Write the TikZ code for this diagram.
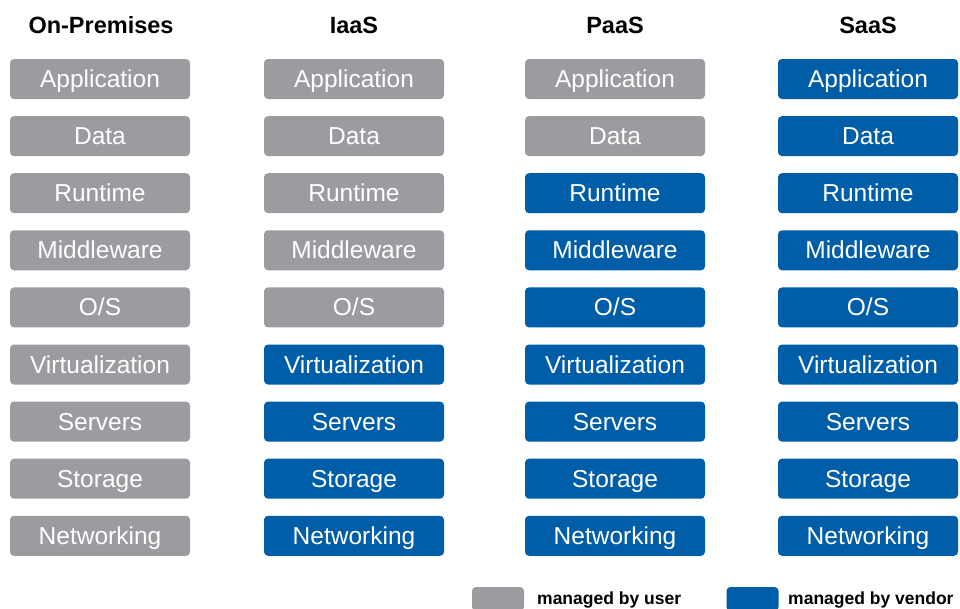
\documentclass[tikz,border=0pt]{standalone}
\usepackage{fontspec}
\setmainfont{Liberation Sans}
\definecolor{usergray}{RGB}{155,156,160}
\definecolor{vendorblue}{RGB}{0,94,168}
\begin{document}
\begin{tikzpicture}[x=1pt,y=-1pt,
  box/.style={rounded corners=4pt, minimum width=180pt, minimum height=40pt, inner sep=0pt,
    text=white, text height=20pt, text depth=3pt, font=\fontsize{24.5}{25}\selectfont},
  userbox/.style={box, fill=usergray},
  vendorbox/.style={box, fill=vendorblue},
  head/.style={anchor=base, inner sep=0pt, font=\fontsize{23.5}{24}\selectfont\bfseries},
  legbox/.style={rounded corners=4pt, minimum width=52pt, minimum height=24pt, inner sep=0pt},
  legtext/.style={anchor=base west, inner sep=0pt, font=\fontsize{17.5}{18}\selectfont\bfseries}]
\useasboundingbox (0,0) rectangle (960,608);
\clip (0,0) rectangle (960,608);
\fill[white] (0,0) rectangle (960,608);
% headers
\node[head] (h1) at (101,33) {On-Premises};
\node[head] (h2) at (354,33) {IaaS};
\node[head] (h3) at (615,33) {PaaS};
\node[head] (h4) at (868,33) {SaaS};
% rows
\foreach \lab [count=\r] in {Application,Data,Runtime,Middleware,O/S,Virtualization,Servers,Storage,Networking}{
  \pgfmathsetmacro{\yy}{79+57.1*(\r-1)}
  \node[userbox] (c1r\r) at (100,\yy) {\lab};
  \ifnum\r>5
    \node[vendorbox] (c2r\r) at (354,\yy) {\lab};
  \else
    \node[userbox] (c2r\r) at (354,\yy) {\lab};
  \fi
  \ifnum\r>2
    \node[vendorbox] (c3r\r) at (615,\yy) {\lab};
  \else
    \node[userbox] (c3r\r) at (615,\yy) {\lab};
  \fi
  \node[vendorbox] (c4r\r) at (868,\yy) {\lab};
}
% legend
\node[legbox, fill=usergray] (lu) at (498,599) {};
\node[legtext] (lut) at (537,604) {managed by user};
\node[legbox, fill=vendorblue] (lv) at (752.5,599) {};
\node[legtext] (lvt) at (788,604) {managed by vendor};
\end{tikzpicture}
\end{document}
